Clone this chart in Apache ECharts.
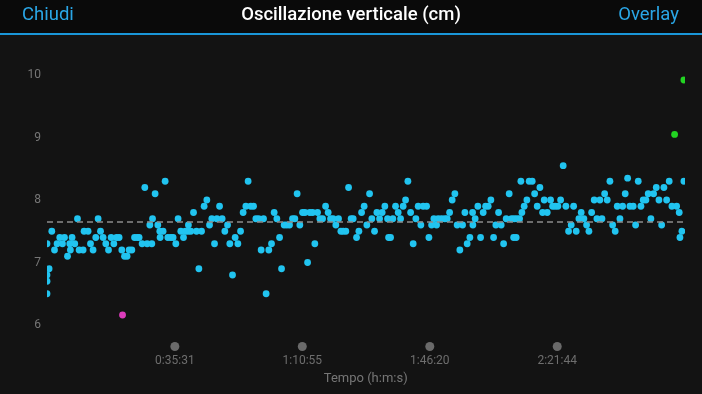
<!DOCTYPE html>
<html>
<head>
<meta charset="utf-8">
<script src="https://cdn.jsdelivr.net/npm/echarts@6/dist/echarts.min.js"></script>
<style>
html,body{margin:0;padding:0;background:#131313;}
#c{width:702px;height:394px;}
</style>
</head>
<body>
<div id="c"></div>
<script>
// ---- data (elapsed seconds, vertical oscillation in cm) ----
const tickLabels = ['0:35:31', '1:10:55', '1:46:20', '2:21:44'];
const yTicks = [6, 7, 8, 9, 10];
const averageValue = 7.65;
const durationSec = 10625;
const mainPoints = [[0,7.3],[0,6.8],[0,6.7],[0,6.5],[35,6.9],[80,7.5],[125,7.2],[168,7.3],[213,7.4],[258,7.3],[292,7.4],[342,7.1],[380,7.3],[390,7.2],[418,7.4],[463,7.3],[508,7.7],[535,7.2],[602,7.2],[618,7.5],[685,7.5],[725,7.3],[768,7.2],[813,7.4],[852,7.7],[892,7.5],[935,7.4],[980,7.3],[1025,7.2],[1069,7.4],[1114,7.3],[1159,7.4],[1202,7.4],[1247,7.2],[1292,7.1],[1335,7.1],[1369,7.2],[1414,7.2],[1459,7.4],[1502,7.4],[1535,7.4],[1585,7.3],[1630,8.2],[1669,7.3],[1714,7.6],[1747,7.3],[1759,7.7],[1802,8.1],[1847,7.6],[1880,7.5],[1885,7.4],[1935,7.5],[1969,8.3],[2014,7.4],[2064,7.4],[2102,7.4],[2147,7.3],[2185,7.7],[2230,7.5],[2275,7.4],[2309,7.5],[2352,7.5],[2357,7.6],[2397,7.5],[2442,7.8],[2492,7.5],[2531,6.9],[2576,7.5],[2619,7.9],[2664,8.0],[2709,7.6],[2747,7.7],[2792,7.3],[2831,7.7],[2876,7.9],[2919,7.7],[2964,7.5],[3009,7.6],[3047,7.3],[3092,6.8],[3136,7.4],[3181,7.3],[3226,7.5],[3269,7.8],[3314,7.9],[3352,8.3],[3397,7.9],[3442,7.9],[3481,7.7],[3526,7.7],[3569,7.2],[3609,7.7],[3652,6.5],[3697,7.2],[3742,7.3],[3786,7.8],[3831,7.7],[3876,7.4],[3909,6.9],[3952,7.6],[3997,7.6],[4042,7.6],[4092,7.7],[4131,7.7],[4169,8.1],[4214,7.6],[4259,7.8],[4298,7.8],[4343,7.0],[4381,7.8],[4426,7.8],[4464,7.3],[4509,7.8],[4548,7.7],[4593,7.7],[4643,7.9],[4686,7.8],[4726,7.7],[4769,7.7],[4814,7.6],[4859,7.7],[4898,7.5],[4936,7.5],[4981,7.5],[5026,8.2],[5069,7.7],[5103,7.7],[5159,7.4],[5198,7.5],[5243,7.8],[5286,7.9],[5331,7.6],[5376,8.1],[5414,7.7],[5459,7.5],[5498,7.8],[5543,7.7],[5586,7.8],[5631,7.9],[5676,7.7],[5693,7.4],[5726,7.4],[5764,7.7],[5809,7.9],[5853,7.8],[5893,7.7],[5936,7.9],[5976,8.0],[6015,8.3],[6060,7.8],[6103,7.3],[6148,7.7],[6186,7.9],[6231,7.6],[6270,7.9],[6326,7.9],[6365,7.4],[6410,7.6],[6448,7.7],[6493,7.6],[6520,7.7],[6576,7.7],[6631,7.7],[6670,7.7],[6710,7.8],[6753,8.0],[6798,8.1],[6836,7.6],[6881,7.2],[6926,7.6],[6965,7.8],[7003,7.3],[7048,7.4],[7093,7.8],[7098,7.6],[7136,7.7],[7181,7.9],[7226,7.4],[7270,7.8],[7310,7.9],[7353,7.9],[7398,8.0],[7443,7.4],[7481,7.6],[7526,7.8],[7570,7.6],[7610,7.3],[7653,7.7],[7703,8.1],[7743,7.7],[7777,7.4],[7787,7.7],[7820,7.4],[7831,7.7],[7876,7.7],[7898,8.3],[7915,7.8],[7953,7.9],[7998,8.0],[8036,8.3],[8087,8.3],[8127,8.1],[8170,7.9],[8215,8.2],[8260,7.8],[8287,8.0],[8337,7.8],[8393,8.0],[8427,7.9],[8470,7.9],[8515,7.9],[8560,8.0],[8603,8.55],[8648,7.9],[8693,7.5],[8737,7.6],[8777,7.9],[8820,7.5],[8865,7.7],[8903,7.8],[8948,7.7],[8993,7.6],[9032,7.5],[9077,7.8],[9120,8.0],[9165,7.7],[9215,8.0],[9249,7.7],[9294,8.1],[9337,8.0],[9382,8.3],[9427,7.6],[9470,7.5],[9504,7.9],[9549,7.7],[9594,7.9],[9637,8.1],[9677,8.35],[9715,7.9],[9770,7.9],[9810,7.6],[9854,8.3],[9899,7.9],[9937,8.0],[9982,8.0],[10020,8.1],[10065,7.7],[10110,8.1],[10154,8.2],[10199,8.0],[10244,7.6],[10282,8.2],[10327,8.0],[10370,8.3],[10415,7.9],[10494,7.9],[10537,7.8],[10549,7.4],[10582,7.5],[10615,8.3]];
const lowPoints = [[1259,6.16]];
const highPoints = [[10460,9.05],[10615,9.92]];

// ---- helpers ----
function parseHms(s){ const p = s.split(':').map(Number); return p[0]*3600 + p[1]*60 + p[2]; }
function fmtHms(v){ v = Math.round(v); const h = Math.floor(v/3600), m = Math.floor((v%3600)/60), s = v%60;
  return h + ':' + String(m).padStart(2,'0') + ':' + String(s).padStart(2,'0'); }
const tickSeconds = tickLabels.map(parseHms);

const FONT = 'Roboto, "Liberation Sans", sans-serif';
const chart = echarts.init(document.getElementById('c'), null, {renderer:'canvas'});

function dotSeries(data, color){
  return {
    type: 'custom',
    clip: true,
    data: data,
    renderItem: function(params, api){
      const p = api.coord([api.value(0), api.value(1)]);
      return {type:'circle', shape:{cx:p[0], cy:p[1], r:3.4}, style:{fill:color}};
    },
    encode: {x:0, y:1},
    silent: true,
    animation: false
  };
}

const mainSeries = dotSeries(mainPoints, '#21c4f0');
mainSeries.markLine = {
  silent: true, symbol: ['none','none'], label:{show:false},
  lineStyle:{color:'#8c8c8c', type:[6,4], width:1.5},
  data: [{yAxis: averageValue}],
  animation: false
};

chart.setOption({
  backgroundColor: '#131313',
  animation: false,
  graphic: [
    {type:'rect', left:0, top:0, shape:{width:702, height:33}, style:{fill:'#0a0a0a'}, silent:true},
    {type:'rect', left:0, top:33, shape:{width:702, height:2}, style:{fill:'#1a96d8'}, silent:true},
    {type:'text', left:22, top:6, style:{text:'Chiudi', fill:'#2aa6e6', font:'18.5px ' + FONT}},
    {type:'text', left:'center', top:6, style:{text:'Oscillazione verticale (cm)', fill:'#ffffff', font:'500 18.5px ' + FONT}},
    {type:'text', right:23, top:6, style:{text:'Overlay', fill:'#2aa6e6', font:'18.5px ' + FONT}}
  ],
  grid: {left:47, right:17.5, top:75, bottom:69},
  xAxis: {
    type:'value', min:0, max:durationSec,
    name:'Tempo (h:m:s)', nameLocation:'middle', nameGap:47,
    nameTextStyle:{color:'#767676', fontSize:13, fontFamily:FONT},
    axisLine:{show:false}, axisTick:{show:false}, splitLine:{show:false},
    axisLabel:{
      customValues: tickSeconds,
      margin: 17,
      formatter: function(v){ return '{d| }\n{t|' + fmtHms(v) + '}'; },
      rich: {
        d:{width:9, height:9, borderRadius:4.5, backgroundColor:'#6a6a6a', fontSize:1, lineHeight:9},
        t:{color:'#6e6e6e', fontSize:12, fontFamily:FONT, lineHeight:20}
      }
    }
  },
  yAxis: {
    type:'value', min:6, max:10, interval:1,
    axisLine:{show:false}, axisTick:{show:false}, splitLine:{show:false},
    axisLabel:{color:'#767676', fontSize:12, fontFamily:FONT, margin:6, padding:[8,0,0,0],
      customValues: yTicks, formatter: function(v){ return String(v); }}
  },
  series: [
    mainSeries,
    dotSeries(lowPoints, '#dd3cbc'),
    dotSeries(highPoints, '#22d422')
  ]
});
</script>
</body>
</html>
